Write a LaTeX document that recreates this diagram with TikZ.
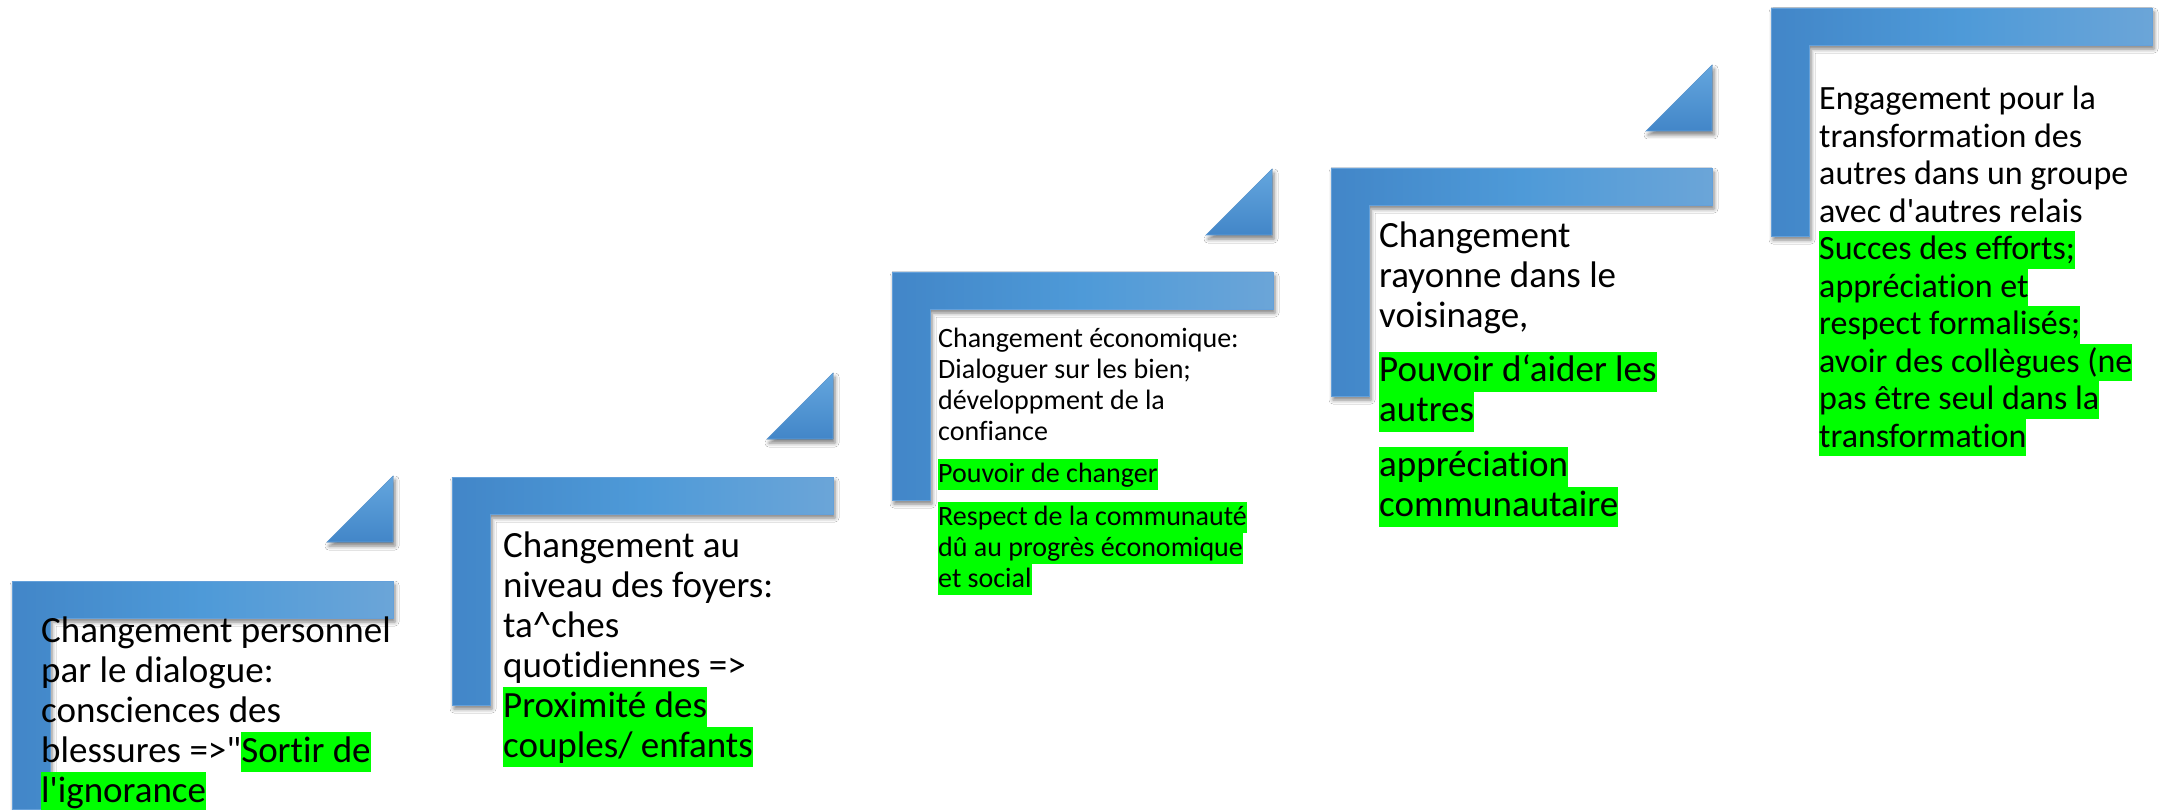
\documentclass[tikz,border=0pt]{standalone}
\usepackage{fontspec}
\setmainfont{Carlito}[Ligatures={TeXOff,CommonOff}]
\usetikzlibrary{shadows.blur}
\definecolor{hlgreen}{RGB}{0,255,0}
\definecolor{bL}{RGB}{66,134,200}
\definecolor{bM}{RGB}{78,154,216}
\definecolor{bR}{RGB}{107,165,216}
\definecolor{bEdge}{RGB}{100,160,218}
\definecolor{tT}{RGB}{100,166,222}
\definecolor{tB}{RGB}{66,134,200}
\newdimen\pitch
\newcommand\mystrut{\vrule width0pt height.76\pitch depth.24\pitch}
\newcommand\hl[1]{{\fboxsep=0pt\colorbox{hlgreen}{\mystrut#1}}}
\newcommand\tl[1]{\hbox{\mystrut#1}}
\newcommand\gap[1]{\vskip#1pt}
\newcommand\btext[3]{\vtop{\fontsize{#1pt}{#2pt}\selectfont\pitch=#2pt\baselineskip=\pitch\lineskip=0pt\lineskiplimit=-100pt #3}}
\tikzset{
  lshape/.style={left color=bL, right color=bR, middle color=bM, draw=bEdge, line width=0.8pt,
    blur shadow={shadow xshift=2pt, shadow yshift=-4pt, shadow blur radius=4pt, shadow opacity=50}},
  tri/.style={top color=tT, bottom color=tB, draw=bEdge, line width=0.6pt,
    blur shadow={shadow xshift=2pt, shadow yshift=-4pt, shadow blur radius=4pt, shadow opacity=50}},
  txt/.style={anchor=base west, inner sep=0pt, text=black}
}
\begin{document}
\begin{tikzpicture}[x=1pt, y=-1pt]
\useasboundingbox[fill=white] (0,0) rectangle (2161,810);
% L shapes
\foreach \bx/\by in {12/581, 452/477, 892/272, 1331/168, 1771/8}{
  \fill[lshape] (\bx,\by) -- ++(381,0) -- ++(0,37) -- ++(-343,0) -- ++(0,191) -- ++(-38,0) -- cycle;
}
% triangles
\foreach \r/\b in {393/542, 833/439, 1272/235, 1712/131}{
  \fill[tri] (\r-66,\b) -- (\r,\b) -- (\r,\b-66) -- cycle;
}
% texts
\node[txt] (t1) at (41,642) {\btext{37}{40}{%
  \tl{Changement personnel}
  \tl{par le dialogue:}
  \tl{consciences des}
  \tl{blessures =>"\hl{Sortir de}}
  \tl{\hl{l'ignorance}}}};
\node[txt] (t2) at (503,557) {\btext{37}{40}{%
  \tl{Changement au}
  \tl{niveau des foyers:}
  \tl{ta\textasciicircum ches}
  \tl{quotidiennes =>}
  \tl{\hl{Proximité des}}
  \tl{\hl{couples/ enfants}}}};
\node[txt] (t3) at (938,348) {\btext{28}{31}{%
  \tl{Changement économique:}
  \tl{Dialoguer sur les bien;}
  \tl{développment de la}
  \tl{confiance}
  \gap{11}
  \tl{\hl{Pouvoir de changer}}
  \gap{12}
  \tl{\hl{Respect de la communauté}}
  \tl{\hl{dû au progrès économique}}
  \tl{\hl{et social}}}};
\node[txt] (t4) at (1379,248) {\btext{37}{40}{%
  \tl{Changement}
  \tl{rayonne dans le}
  \tl{voisinage,}
  \gap{14}
  \tl{\hl{Pouvoir d‘aider les}}
  \tl{\hl{autres}}
  \gap{15}
  \tl{\hl{appréciation}}
  \tl{\hl{communautaire}}}};
\node[txt] (t5) at (1819,110) {\btext{34}{37.5}{%
  \tl{Engagement pour la}
  \tl{transformation des}
  \tl{autres dans un groupe}
  \tl{avec d'autres relais}
  \tl{\hl{Succes des efforts;}}
  \tl{\hl{appréciation et}}
  \tl{\hl{respect formalisés;}}
  \tl{\hl{avoir des collègues (ne}}
  \tl{\hl{pas être seul dans la}}
  \tl{\hl{transformation}}}};
\end{tikzpicture}
\end{document}
